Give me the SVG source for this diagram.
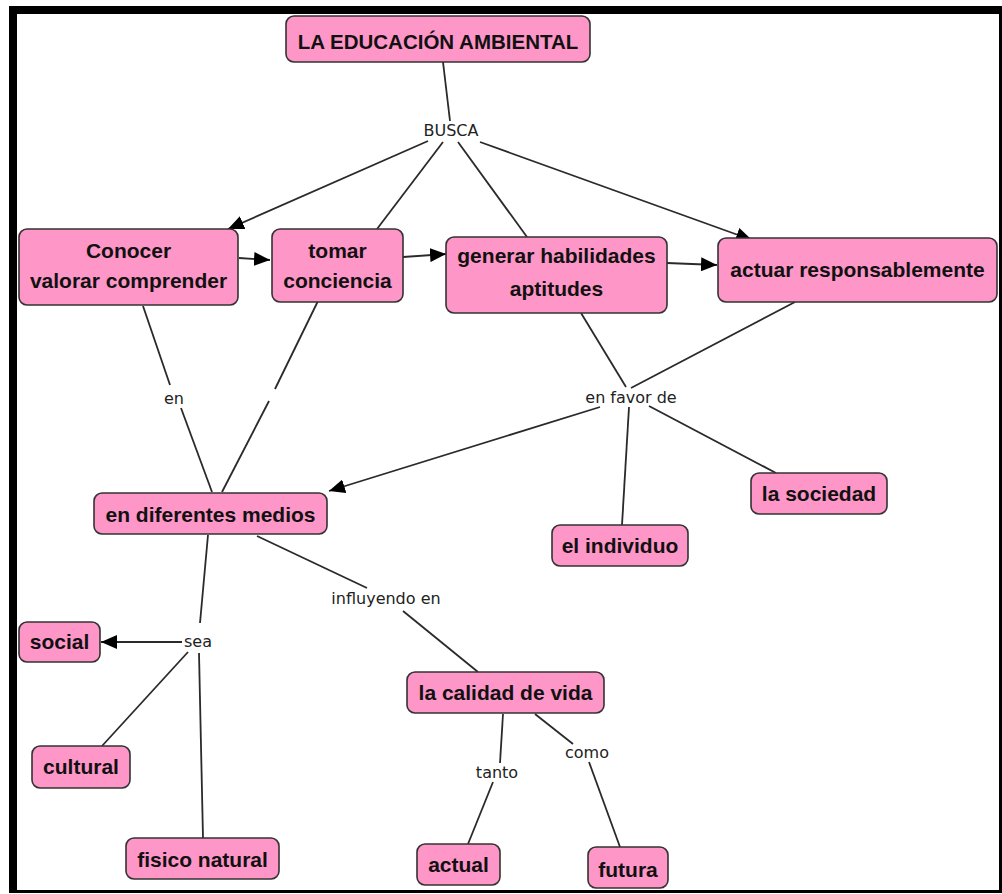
<svg xmlns="http://www.w3.org/2000/svg" width="1002" height="894" viewBox="0 0 1002 894">
<style>
.node rect{fill:#ff96c8;stroke:#333;stroke-width:1.6}
.node text{font-family:"Liberation Sans",Arial,sans-serif;font-weight:bold;font-size:21px;fill:#111;text-anchor:middle}
.lbl{font-family:"DejaVu Sans",Verdana,sans-serif;font-size:16px;fill:#222;text-anchor:middle}
.conn path{fill:none;stroke:#2a2a2a;stroke-width:1.8}
</style>
<defs>
<marker id="ah" markerUnits="userSpaceOnUse" markerWidth="16" markerHeight="14" viewBox="0 0 16 14" refX="16" refY="7" orient="auto">
<path d="M0,0 L16,7 L0,14 Z" fill="#000"/>
</marker>
</defs>
<rect x="0" y="0" width="1002" height="894" fill="#fff"/>
<rect x="9" y="6" width="993" height="887" fill="#000"/>
<rect x="17" y="14" width="982" height="876" fill="#fff"/>
<g id="connectors" class="conn">
<path d="M443,62 L450,121"/>
<path d="M428,141 L228,229" marker-end="url(#ah)"/>
<path d="M443,142 L377,229"/>
<path d="M458,142 L527,237"/>
<path d="M480,142 L752,240" marker-end="url(#ah)"/>
<path d="M239,258 L270,260" marker-end="url(#ah)"/>
<path d="M403,257 L446,254" marker-end="url(#ah)"/>
<path d="M667,263 L717,265" marker-end="url(#ah)"/>
<path d="M143,306 L170,385"/>
<path d="M181,408 L212,492"/>
<path d="M318,301 L275,389"/>
<path d="M269,401 L222,492"/>
<path d="M600,407 L329,491" marker-end="url(#ah)"/>
<path d="M581,313 L626,387"/>
<path d="M795,302 L631,388"/>
<path d="M629,407 L622,525"/>
<path d="M649,406 L776,473"/>
<path d="M208,535 L200,623"/>
<path d="M182,642 L101,642" marker-end="url(#ah)"/>
<path d="M188,652 L102,746"/>
<path d="M199,653 L203,838"/>
<path d="M257,536 L367,588"/>
<path d="M403,611 L478,672"/>
<path d="M503,714 L500,763"/>
<path d="M493,782 L468,844"/>
<path d="M535,714 L573,744"/>
<path d="M589,762 L620,847"/>
</g>
<g id="labels">
<text class="lbl" x="451" y="136">BUSCA</text>
<text class="lbl" x="174" y="404">en</text>
<text class="lbl" x="631" y="403">en favor de</text>
<text class="lbl" x="198" y="647">sea</text>
<text class="lbl" x="386" y="604">influyendo en</text>
<text class="lbl" x="497" y="778">tanto</text>
<text class="lbl" x="587" y="758">como</text>
</g>
<g id="n-educacion" class="node"><rect x="286" y="16" width="304" height="46" rx="8"/><text x="438" y="49" style="font-size:20.5px">LA EDUCACIÓN AMBIENTAL</text></g>
<g id="n-conocer" class="node"><rect x="19" y="229" width="219" height="76" rx="8"/><text x="128.5" y="258">Conocer</text><text x="128.5" y="288">valorar comprender</text></g>
<g id="n-tomar" class="node"><rect x="272" y="229" width="131" height="73" rx="8"/><text x="337.5" y="258">tomar</text><text x="337.5" y="288">conciencia</text></g>
<g id="n-generar" class="node"><rect x="446" y="237" width="221" height="76" rx="8"/><text x="556.5" y="263">generar habilidades</text><text x="556.5" y="296">aptitudes</text></g>
<g id="n-actuar" class="node"><rect x="718" y="238" width="279" height="64" rx="8"/><text x="857.5" y="277">actuar responsablemente</text></g>
<g id="n-medios" class="node"><rect x="94" y="493" width="233" height="41" rx="8"/><text x="210.5" y="522">en diferentes medios</text></g>
<g id="n-individuo" class="node"><rect x="552" y="525" width="136" height="41" rx="8"/><text x="620" y="553">el individuo</text></g>
<g id="n-sociedad" class="node"><rect x="751" y="473" width="136" height="41" rx="8"/><text x="819" y="501">la sociedad</text></g>
<g id="n-social" class="node"><rect x="19" y="622" width="81" height="40" rx="8"/><text x="59.5" y="649">social</text></g>
<g id="n-cultural" class="node"><rect x="32" y="746" width="98" height="42" rx="8"/><text x="81" y="774">cultural</text></g>
<g id="n-fisico" class="node"><rect x="126" y="838" width="153" height="41" rx="8"/><text x="202.5" y="867">fisico natural</text></g>
<g id="n-calidad" class="node"><rect x="407" y="672" width="197" height="41" rx="8"/><text x="505.5" y="700">la calidad de vida</text></g>
<g id="n-actual" class="node"><rect x="417" y="844" width="83" height="41" rx="8"/><text x="458.5" y="872">actual</text></g>
<g id="n-futura" class="node"><rect x="588" y="847" width="80" height="41" rx="8"/><text x="628" y="877">futura</text></g>
</svg>
